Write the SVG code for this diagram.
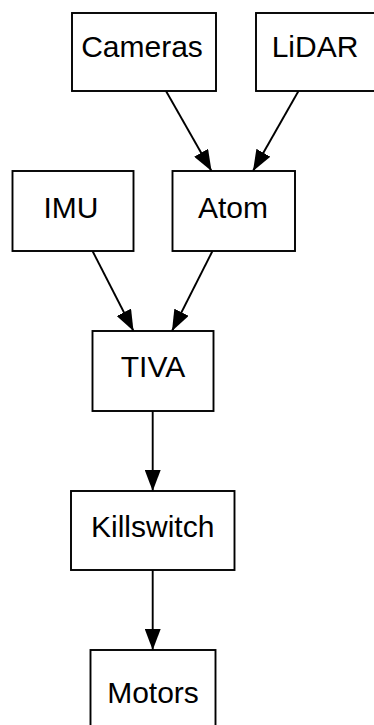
<svg xmlns="http://www.w3.org/2000/svg" width="374" height="725" viewBox="0 0 374 725">
<style>
.box{fill:#fff;stroke:#000;stroke-width:1.9}
.lbl{font-family:"Liberation Sans",Arial,sans-serif;font-size:30px;fill:#000;text-anchor:middle}
.edge{stroke:#000;stroke-width:1.9;fill:none}
</style>
<defs>
<marker id="arr" viewBox="0 0 21 16" refX="21" refY="8" markerWidth="21" markerHeight="16" markerUnits="userSpaceOnUse" orient="auto">
<path d="M0,0 L21,8 L0,16 Z" fill="#000"/>
</marker>
</defs>
<rect width="374" height="725" fill="#fff"/>
<g id="edges">
<line class="edge" x1="166" y1="91" x2="211.5" y2="171" marker-end="url(#arr)"/>
<line class="edge" x1="298.5" y1="91" x2="253" y2="171" marker-end="url(#arr)"/>
<line class="edge" x1="92.5" y1="251" x2="133.5" y2="331" marker-end="url(#arr)"/>
<line class="edge" x1="212.5" y1="251" x2="172" y2="331" marker-end="url(#arr)"/>
<line class="edge" x1="152.7" y1="411" x2="152.7" y2="491" marker-end="url(#arr)"/>
<line class="edge" x1="152.7" y1="570" x2="152.7" y2="650" marker-end="url(#arr)"/>
</g>
<g id="cameras"><rect class="box" x="72" y="13" width="144" height="78"/><text class="lbl" x="142" y="57">Cameras</text></g>
<g id="lidar"><rect class="box" x="256" y="13" width="130" height="78"/><text class="lbl" x="315" y="57">LiDAR</text></g>
<g id="imu"><rect class="box" x="12.5" y="171" width="121" height="80"/><text class="lbl" x="71" y="218">IMU</text></g>
<g id="atom"><rect class="box" x="172.5" y="171" width="122.5" height="80"/><text class="lbl" x="233" y="218">Atom</text></g>
<g id="tiva"><rect class="box" x="92.5" y="331" width="121" height="80"/><text class="lbl" x="153" y="377">TIVA</text></g>
<g id="killswitch"><rect class="box" x="71" y="491" width="163.5" height="79"/><text class="lbl" x="152.7" y="537">Killswitch</text></g>
<g id="motors"><rect class="box" x="90.5" y="650" width="125" height="90"/><text class="lbl" x="153" y="703">Motors</text></g>
</svg>
